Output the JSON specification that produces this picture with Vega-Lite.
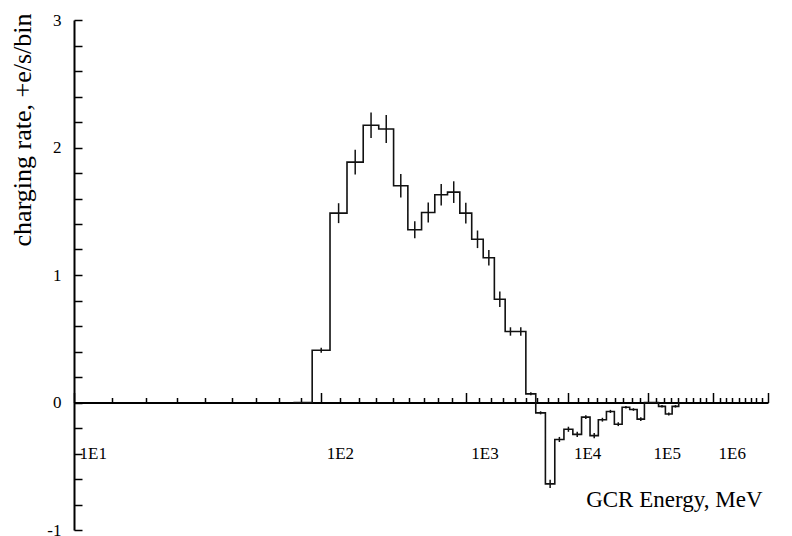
{
  "$schema": "https://vega.github.io/schema/vega-lite/v6.json",
  "width": 694,
  "height": 510,
  "autosize": "none",
  "padding": {"left": 74, "top": 20, "right": 24, "bottom": 6},
  "background": "white",
  "config": {
    "view": {"stroke": null},
    "font": "Liberation Serif",
    "axis": {
      "labelFont": "Liberation Serif",
      "labelFontSize": 17,
      "labelColor": "#000000",
      "labelOverlap": false,
      "labelFlush": false,
      "labelBound": false,
      "titleFont": "Liberation Serif",
      "titleFontWeight": "normal",
      "titleColor": "#000000",
      "tickColor": "#000000",
      "domainColor": "#000000",
      "grid": false
    }
  },
  "datasets": {
    "bins": [
      {"lo": 1.85, "c": 1.9, "v": 0, "err": 0},
      {"lo": 1.95, "c": 2.0, "v": 0.41, "err": 0.02},
      {"lo": 2.05, "c": 2.1, "v": 1.485, "err": 0.078},
      {"lo": 2.15, "c": 2.2, "v": 1.885, "err": 0.097},
      {"lo": 2.25, "c": 2.3, "v": 2.175, "err": 0.1},
      {"lo": 2.35, "c": 2.4, "v": 2.145, "err": 0.11},
      {"lo": 2.45, "c": 2.5, "v": 1.7, "err": 0.093},
      {"lo": 2.55, "c": 2.6, "v": 1.355, "err": 0.067},
      {"lo": 2.65, "c": 2.7, "v": 1.49, "err": 0.078},
      {"lo": 2.75, "c": 2.8, "v": 1.63, "err": 0.084},
      {"lo": 2.85, "c": 2.9, "v": 1.65, "err": 0.085},
      {"lo": 2.95, "c": 3.0, "v": 1.485, "err": 0.081},
      {"lo": 3.05, "c": 3.1, "v": 1.28, "err": 0.069},
      {"lo": 3.15, "c": 3.2, "v": 1.135, "err": 0.061},
      {"lo": 3.25, "c": 3.3, "v": 0.81, "err": 0.06},
      {"lo": 3.35, "c": 3.4, "v": 0.557, "err": 0.033},
      {"lo": 3.45, "c": 3.5, "v": 0.557, "err": 0.033},
      {"lo": 3.55, "c": 3.6, "v": 0.068, "err": 0.012},
      {"lo": 3.65, "c": 3.7, "v": -0.081, "err": 0.012},
      {"lo": 3.75, "c": 3.8, "v": -0.638, "err": 0.032},
      {"lo": 3.85, "c": 3.9, "v": -0.29, "err": 0.02},
      {"lo": 3.95, "c": 4.0, "v": -0.21, "err": 0.02},
      {"lo": 4.05, "c": 4.1, "v": -0.25, "err": 0.02},
      {"lo": 4.15, "c": 4.2, "v": -0.115, "err": 0.015},
      {"lo": 4.25, "c": 4.3, "v": -0.26, "err": 0.02},
      {"lo": 4.35, "c": 4.4, "v": -0.135, "err": 0.015},
      {"lo": 4.45, "c": 4.5, "v": -0.07, "err": 0.012},
      {"lo": 4.55, "c": 4.6, "v": -0.17, "err": 0.015},
      {"lo": 4.65, "c": 4.7, "v": -0.037, "err": 0.01},
      {"lo": 4.75, "c": 4.8, "v": -0.055, "err": 0.01},
      {"lo": 4.85, "c": 4.9, "v": -0.13, "err": 0.015},
      {"lo": 4.95, "c": 5.0, "v": 0, "err": 0},
      {"lo": 5.05, "c": 5.1, "v": 0, "err": 0},
      {"lo": 5.15, "c": 5.2, "v": -0.03, "err": 0.01},
      {"lo": 5.25, "c": 5.3, "v": -0.09, "err": 0.012},
      {"lo": 5.35, "c": 5.4, "v": -0.03, "err": 0.01},
      {"lo": 5.45, "c": 5.5, "v": 0, "err": 0}
    ]
  },
  "layer": [
    {
      "data": {"name": "bins"},
      "mark": {"type": "line", "interpolate": "step-after", "color": "#111111", "strokeWidth": 1.6},
      "encoding": {
        "x": {
          "field": "lo", "type": "quantitative",
          "scale": {"type": "log", "domain": [1, 7], "nice": false},
          "axis": {
            "orient": "bottom",
            "offset": -127.5,
            "values": [1, 1.1111, 1.2222, 1.3333, 1.4444, 1.5556, 1.6667, 1.7778, 1.8889,
                       2, 2.1111, 2.2222, 2.3333, 2.4444, 2.5556, 2.6667, 2.7778, 2.8889,
                       3, 3.1111, 3.2222, 3.3333, 3.4444, 3.5556, 3.6667, 3.7778, 3.8889,
                       4, 4.1111, 4.2222, 4.3333, 4.4444, 4.5556, 4.6667, 4.7778, 4.8889,
                       5, 5.1111, 5.2222, 5.3333, 5.4444, 5.5556, 5.6667, 5.7778, 5.8889,
                       6, 6.1111, 6.2222, 6.3333, 6.4444, 6.5556, 6.6667, 6.7778, 6.8889, 7],
            "tickCount": 200,
            "labelExpr": "(datum.value % 1 == 0 && datum.value < 7) ? '1E' + datum.value : ''",
            "labelAlign": "left",
            "labelBaseline": "middle",
            "labelPadding": 61,
            "labelFontSize": 17,
            "labelOffset": 5,
            "labelOverlap": false,
            "tickSize": {"condition": {"test": "datum.value % 1 == 0", "value": -10}, "value": -5},
            "tickWidth": 1.5,
            "domainWidth": 2,
            "title": "GCR Energy, MeV",
            "titleFontSize": 23,
            "titleAnchor": "end",
            "titleAlign": "right",
            "titleX": 688,
            "titlePadding": 22
          }
        },
        "y": {
          "field": "v", "type": "quantitative",
          "scale": {"domain": [-1, 3], "nice": false, "zero": false},
          "axis": {
            "values": [-1, -0.8, -0.6, -0.4, -0.2, 0, 0.2, 0.4, 0.6, 0.8, 1, 1.2, 1.4, 1.6, 1.8, 2, 2.2, 2.4, 2.6, 2.8, 3],
            "tickCount": 200,
            "labelExpr": "datum.value % 1 == 0 ? '' + datum.value : ''",
            "labelFontSize": 17,
            "labelPadding": 21,
            "labelOverlap": false,
            "tickSize": -8,
            "tickWidth": 1.5,
            "domainWidth": 2,
            "title": "charging rate, +e/s/bin",
            "titleFontSize": 26,
            "titleAnchor": "end",
            "titleY": -7,
            "titlePadding": 11
          }
        }
      }
    },
    {
      "data": {"name": "bins"},
      "mark": {"type": "errorbar", "color": "#111111", "rule": {"strokeWidth": 1.5}},
      "encoding": {
        "x": {"field": "c", "type": "quantitative", "title": "GCR Energy, MeV", "axis": {"labelOverlap": false, "tickCount": 200}},
        "y": {"field": "v", "type": "quantitative", "title": "charging rate, +e/s/bin", "axis": {"labelOverlap": false, "tickCount": 200}},
        "yError": {"field": "err"}
      }
    }
  ]
}
